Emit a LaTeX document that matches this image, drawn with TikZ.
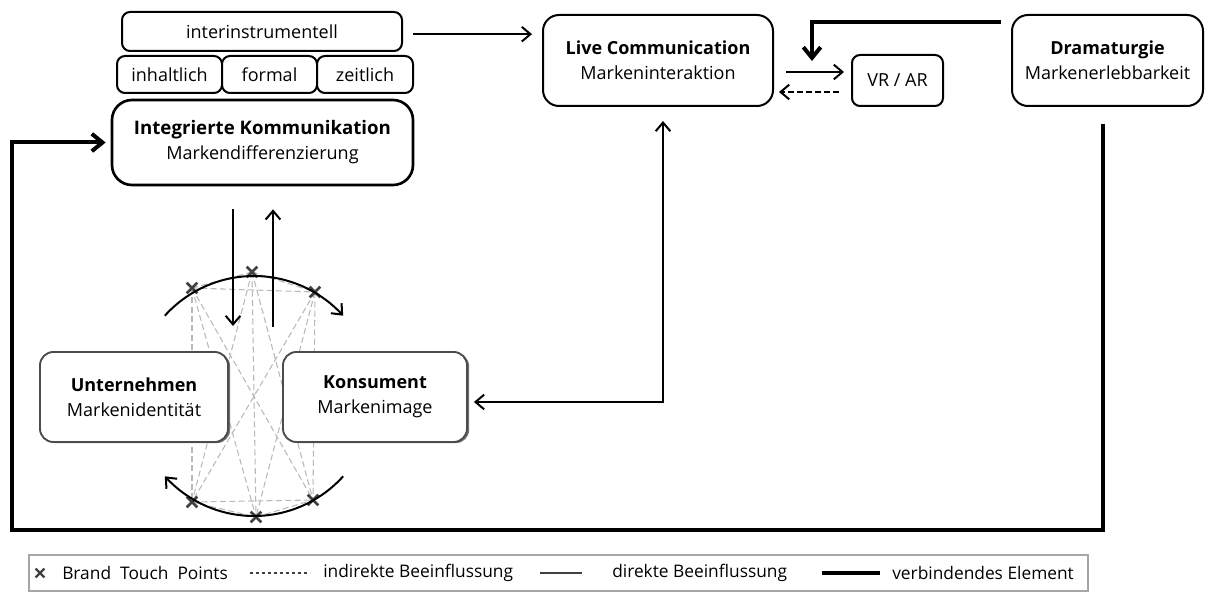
\documentclass[tikz,border=0pt]{standalone}
\usepackage{fontspec}
\setmainfont{Open Sans}
\usetikzlibrary{arrows.meta,calc,shapes.misc,shadows,backgrounds}
\begin{document}
\begin{tikzpicture}[x=0.75pt,y=-0.75pt,
  box/.style={draw, line width=1.5pt, rounded corners=8pt, fill=white, inner sep=0pt, align=center,
    font=\fontsize{13.5}{18.75}\selectfont},
  bigbox/.style={box, rounded corners=12pt},
  shbox/.style={box, draw=gray!60!black, line width=1.4pt, rounded corners=10pt,
    drop shadow={shadow xshift=1.6pt, shadow yshift=-0.8pt, opacity=0.8, fill=gray!60!black}},
  thin/.style={line width=1.5pt, -{Straight Barb[length=6.5pt,width=11pt]}},
  thinboth/.style={line width=1.5pt, {Straight Barb[length=6.5pt,width=11pt]}-{Straight Barb[length=6.5pt,width=11pt]}},
  thickarr/.style={line width=3pt, -{Straight Barb[length=8pt,width=13pt]}},
  tp/.style={cross out, draw=gray!50!black, line width=2pt, minimum size=6pt, inner sep=0pt},
  tpline/.style={draw=gray!55, line width=0.8pt, dash pattern=on 4.5pt off 2.5pt},
  lgtext/.style={anchor=west, inner sep=0pt, font=\fontsize{13}{15}\selectfont}
]
\useasboundingbox (0,0) rectangle (1211,592);

% top-left group
\node[box, rounded corners=6pt, minimum width=210pt, minimum height=29.25pt] (inter) at (262,31.5) {interinstrumentell};
\node[box, rounded corners=6pt, minimum width=78.75pt, minimum height=27.75pt] (inh) at (169.5,74.5) {inhaltlich};
\node[box, rounded corners=6pt, minimum width=71.25pt, minimum height=27.75pt] (form) at (269.5,74.5) {formal};
\node[box, rounded corners=6pt, minimum width=72pt, minimum height=27.75pt] (zeit) at (365,74.5) {zeitlich};
\node[bigbox, line width=2pt, rounded corners=15pt, minimum width=225.75pt, minimum height=63.75pt] (integ) at (262.5,142.5)
  {{\fontsize{14}{18.75}\selectfont\textbf{Integrierte Kommunikation}}\\Markendifferenzierung};

% top-right group
\node[bigbox, minimum width=172.5pt, minimum height=68.25pt] (live) at (658,60.5)
  {\textbf{Live Communication}\\Markeninteraktion};
\node[box, rounded corners=6pt, minimum width=68.25pt, minimum height=38.25pt] (vrar) at (897.5,80.5) {VR / AR};
\node[bigbox, minimum width=143.25pt, minimum height=68.25pt] (dram) at (1107.5,60.5)
  {\textbf{Dramaturgie}\\Markenerlebbarkeit};

% touch points
\node[tp] (t1) at (192,288) {};
\node[tp] (t2) at (252,272) {};
\node[tp] (t3) at (315,292) {};
\node[tp] (t4) at (192,502) {};
\node[tp] (t5) at (256,517) {};
\node[tp] (t6) at (313,500) {};
\begin{pgfonlayer}{background}
\foreach \a/\b in {t1/t2,t1/t3,t1/t4,t1/t5,t1/t6,t2/t3,t2/t4,t2/t5,t2/t6,t3/t4,t3/t5,t3/t6,t4/t5,t4/t6,t5/t6}
  \draw[tpline] (\a.center) -- (\b.center);
\end{pgfonlayer}

% lower boxes
\node[shbox, minimum width=141pt, minimum height=67.5pt] (unt) at (134,397)
  {\textbf{Unternehmen}\\Markenidentität};
\node[shbox, minimum width=138pt, minimum height=67.5pt] (kons) at (375,397)
  {\textbf{Konsument}\\Markenimage};

% rotating arcs
\draw[thin] plot[domain=-138:-42, samples=50] ({254+120*cos(\x)},{396+120*sin(\x)});
\draw[thin] plot[domain=42:138, samples=50] ({254+120*cos(\x)},{396+120*sin(\x)});

% connectors
\coordinate (dnTip) at (233,326);
\coordinate (upBot) at (273,327);
\coordinate (loopBL) at (12,530);
\draw[thin] ($(integ.south)+(-29.5,23)$) -- (dnTip);
\draw[thin] (upBot) -- ($(integ.south)+(10.5,23)$);
\draw[thin] ([xshift=7.5pt,yshift=-2pt]inter.east) -- ([xshift=-7.5pt,yshift=-2pt]inter.east -| live.west);
\draw[thin] ($(live.east)+(12,11.5)$) -- ($(vrar.west)+(-7,-8.5)$);
\draw[thin, dash pattern=on 4.5pt off 2.2pt] ($(vrar.west)+(-12,11.5)$) -- ($(live.east)+(5,31.5)$);
\draw[thickarr] ($(dram.west)+(-10,-38.5)$) -| ($(vrar.north west)+(-39,7)$);
\draw[thinboth] ($(kons.east)+(6,5)$) -| ($(live.south)+(5,14)$);
\draw[thickarr, line join=miter] ($(dram.south)+(-4.5,17)$) |- (loopBL) |- ($(integ.west)+(-5,0)$);

% legend
\node[draw=gray!70, line width=1pt, minimum width=794.25pt, minimum height=27pt, inner sep=0pt] (legend) at (558.5,573) {};
\node[tp, minimum size=5pt, line width=1.6pt] (lgx) at (40,573) {};
\node[lgtext] (lg1) at (62,573) {Brand\ \ Touch\ \ Points};
\coordinate (lgd1) at (250,573);
\coordinate (lgd2) at (310,573);
\draw[draw=gray!50!black, line width=0.9pt, dash pattern=on 2.5pt off 2pt] (lgd1) -- (lgd2);
\node[lgtext] (lg2) at (323,573) {indirekte Beeinflussung};
\coordinate (lgs1) at (540,573);
\coordinate (lgs2) at (582,573);
\draw[draw=gray!50!black, line width=1pt] (lgs1) -- (lgs2);
\node[lgtext] (lg3) at (612,573) {direkte Beeinflussung};
\coordinate (lgt1) at (822,573);
\coordinate (lgt2) at (880,573);
\draw[line width=3pt] (lgt1) -- (lgt2);
\node[lgtext] (lg4) at (892,573) {verbindendes Element};
\end{tikzpicture}
\end{document}
